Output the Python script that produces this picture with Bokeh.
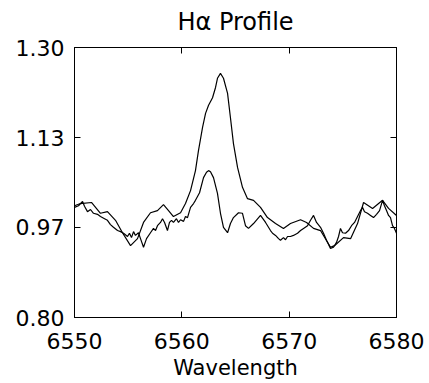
from bokeh.plotting import figure
from bokeh.models import Range1d, FixedTicker, LinearAxis
from bokeh.embed import file_html
from bokeh.resources import INLINE

# Smooth spectrum (strong emission peak)
wave_a = [6550.00, 6550.56, 6551.58, 6552.42, 6553.07, 6553.82, 6554.47, 6555.22, 6555.87,
          6556.43, 6557.08, 6557.73, 6558.29, 6558.76, 6559.22, 6559.88, 6560.34, 6560.81,
          6561.27, 6561.55, 6561.93, 6562.21, 6562.49, 6562.86, 6563.14, 6563.32, 6563.60,
          6563.88, 6564.26, 6564.53, 6564.81, 6565.19, 6565.65, 6566.12, 6566.68, 6567.33,
          6567.98, 6568.73, 6569.47, 6570.12, 6571.06, 6571.62, 6572.27, 6572.92, 6573.85,
          6574.22, 6575.06, 6575.72, 6576.37, 6576.93, 6577.77, 6578.70, 6579.26, 6580.00]
flux_a = [1.007, 1.011, 1.013, 0.993, 0.996, 0.980, 0.957, 0.933, 0.946,
          0.976, 0.994, 0.998, 1.009, 0.998, 0.987, 0.994, 1.011, 1.035,
          1.072, 1.109, 1.152, 1.178, 1.193, 1.207, 1.226, 1.243, 1.252,
          1.243, 1.215, 1.170, 1.122, 1.078, 1.041, 1.020, 1.017, 1.004,
          0.985, 0.974, 0.965, 0.974, 0.981, 0.976, 0.965, 0.961, 0.930,
          0.933, 0.948, 0.946, 0.974, 1.013, 1.002, 1.017, 1.002, 0.989]

# Noisy spectrum (weaker emission peak)
wave_b = [6550.00, 6550.37, 6550.75, 6550.93, 6551.21, 6551.49, 6551.77, 6552.14, 6552.42,
          6552.80, 6553.07, 6553.35, 6553.63, 6554.01, 6554.29, 6554.57, 6554.94, 6555.12,
          6555.31, 6555.50, 6555.68, 6555.96, 6556.15, 6556.43, 6556.71, 6557.08, 6557.36,
          6557.55, 6557.73, 6558.01, 6558.20, 6558.39, 6558.66, 6558.85, 6559.04, 6559.22,
          6559.50, 6559.69, 6559.88, 6560.16, 6560.34, 6560.53, 6560.81, 6561.09, 6561.27,
          6561.65, 6562.02, 6562.30, 6562.49, 6562.67, 6562.95, 6563.32, 6563.60, 6563.88,
          6564.26, 6564.53, 6564.81, 6565.28, 6565.65, 6565.93, 6566.21, 6566.68, 6567.33,
          6567.80, 6568.26, 6568.45, 6568.73, 6569.01, 6569.19, 6569.47,
          6569.66, 6569.85, 6570.12, 6570.40, 6570.78, 6571.06, 6571.34, 6571.71, 6571.99,
          6572.27, 6572.55, 6572.92, 6573.20, 6573.48, 6573.85, 6574.13, 6574.41, 6574.60,
          6574.78, 6574.97, 6575.25, 6575.53, 6575.81, 6576.09, 6576.37, 6576.65, 6576.83,
          6577.02, 6577.30, 6577.58, 6577.86, 6578.14, 6578.42, 6578.70, 6578.88, 6579.07,
          6579.26, 6579.44, 6579.63, 6579.81, 6580.00]
flux_b = [1.004, 1.007, 1.015, 1.006, 0.996, 1.000, 0.993, 0.991, 0.987,
          0.983, 0.980, 0.972, 0.967, 0.961, 0.959, 0.956, 0.950, 0.956,
          0.948, 0.959, 0.952, 0.957, 0.946, 0.930, 0.946, 0.957, 0.965,
          0.961, 0.970, 0.976, 0.983, 0.976, 0.961, 0.976, 0.980, 0.976,
          0.983, 0.976, 0.981, 0.978, 0.987, 0.985, 1.004, 1.011, 1.017,
          1.031, 1.059, 1.069, 1.072, 1.070, 1.059, 1.030, 0.993, 0.967,
          0.957, 0.974, 0.985, 0.994, 0.993, 0.970, 0.965, 0.974, 0.989,
          0.976, 0.961, 0.956, 0.952, 0.946, 0.943, 0.948,
          0.944, 0.950, 0.950, 0.952, 0.956, 0.961, 0.965, 0.970, 0.980,
          0.989, 0.976, 0.967, 0.956, 0.943, 0.928, 0.930, 0.939, 0.950,
          0.965, 0.957, 0.956, 0.961, 0.970, 0.976, 0.987, 0.998, 1.004,
          0.996, 0.993, 0.989, 0.985, 0.991, 0.998, 1.017, 1.007, 0.998,
          0.989, 0.985, 0.970, 0.965, 0.956]

x_ticks = [6550, 6560, 6570, 6580]
y_ticks = [0.80, 0.9667, 1.1333, 1.30]
y_tick_labels = ["0.80", "0.97", "1.13", "1.30"]
title_text = "H\u03b1 Profile"

FONT = "DejaVu Sans"

p = figure(width=429, height=383, output_backend="svg", toolbar_location=None,
           x_range=Range1d(6550, 6580), y_range=Range1d(0.80, 1.30),
           min_border_left=74, min_border_right=33, min_border_top=47, min_border_bottom=66)

p.grid.visible = False
p.outline_line_color = "black"
p.outline_line_width = 1
p.background_fill_color = "white"
p.border_fill_color = "white"

p.line(wave_a, flux_a, line_color="black", line_width=1.2)
p.line(wave_b, flux_b, line_color="black", line_width=1.2)

xa = p.xaxis[0]
xa.ticker = FixedTicker(ticks=x_ticks)
xa.axis_label = "Wavelength"
ya = p.yaxis[0]
ya.ticker = FixedTicker(ticks=y_ticks)
ya.major_label_overrides = {t: l for t, l in zip(y_ticks, y_tick_labels)}

for ax in (xa, ya):
    ax.major_tick_in = 6
    ax.major_tick_out = 0
    ax.minor_tick_line_color = None
    ax.axis_line_color = "black"
    ax.axis_line_width = 1
    ax.major_tick_line_color = "black"
    ax.major_label_text_font = FONT
    ax.major_label_text_font_size = "22px"
    ax.major_label_text_color = "black"
    ax.axis_label_text_font = FONT
    ax.axis_label_text_font_size = "21px"
    ax.axis_label_text_font_style = "normal"
    ax.axis_label_text_color = "black"
xa.major_label_standoff = 15
xa.axis_label_standoff = 4
ya.major_label_standoff = 10

# Top axis carries the chart title as its axis label
top = LinearAxis(ticker=FixedTicker(ticks=x_ticks),
                 major_label_overrides={t: "" for t in x_ticks},
                 major_label_text_font_size="1px",
                 major_tick_in=6, major_tick_out=0, minor_tick_line_color=None,
                 major_label_standoff=0,
                 axis_label=title_text, axis_label_standoff=12,
                 axis_label_text_font=FONT, axis_label_text_font_size="24px",
                 axis_label_text_font_style="normal", axis_label_text_color="black")
right = LinearAxis(ticker=FixedTicker(ticks=y_ticks),
                   major_label_overrides={t: "" for t in y_ticks},
                   major_tick_in=6, major_tick_out=0, minor_tick_line_color=None,
                   major_label_standoff=0)
p.add_layout(top, "above")
p.add_layout(right, "right")

open("out.html", "w").write(file_html(p, INLINE))
